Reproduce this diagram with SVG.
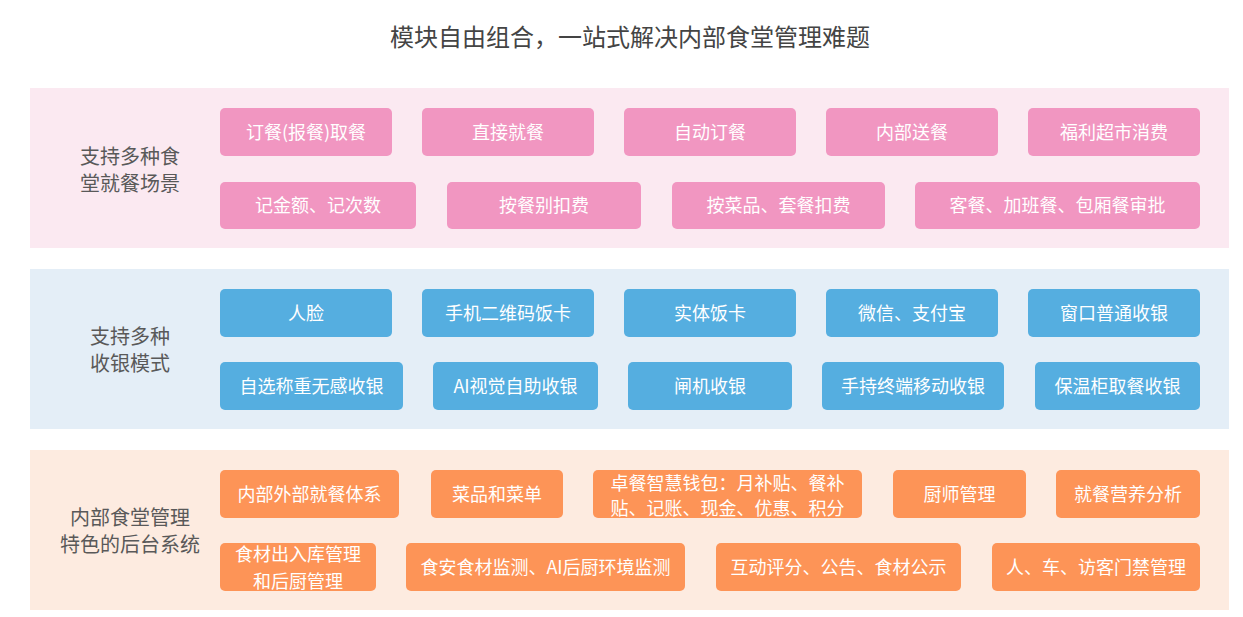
<svg xmlns="http://www.w3.org/2000/svg" width="1243" height="617" viewBox="0 0 1243 617">
<style>
text{font-family:"Microsoft YaHei","Noto Sans CJK SC","Noto Sans",sans-serif}
.title{font-size:24px;fill:#444;text-anchor:middle}
.lbl{font-size:20px;fill:#595959;text-anchor:middle}
.bt{font-size:18px;fill:#fff;text-anchor:middle}
.pk{fill:#f196c1}
.bl{fill:#55aee0}
.og{fill:#fd9457}
</style>
<rect width="1243" height="617" fill="#fff"/>
<text class="title" x="630" y="46">模块自由组合，一站式解决内部食堂管理难题</text>

<g id="band1">
<rect x="30" y="88" width="1199" height="160" fill="#fbe9f1"/>
<text class="lbl" x="130" y="164">支持多种食</text>
<text class="lbl" x="130" y="191">堂就餐场景</text>
</g>
<g id="n1"><rect class="pk" x="220" y="108" width="172" height="48" rx="5"/><text class="bt" x="306" y="138.5">订餐(报餐)取餐</text></g>
<g id="n2"><rect class="pk" x="422" y="108" width="172" height="48" rx="5"/><text class="bt" x="508" y="138.5">直接就餐</text></g>
<g id="n3"><rect class="pk" x="624" y="108" width="172" height="48" rx="5"/><text class="bt" x="710" y="138.5">自动订餐</text></g>
<g id="n4"><rect class="pk" x="826" y="108" width="172" height="48" rx="5"/><text class="bt" x="912" y="138.5">内部送餐</text></g>
<g id="n5"><rect class="pk" x="1028" y="108" width="172" height="48" rx="5"/><text class="bt" x="1114" y="138.5">福利超市消费</text></g>
<g id="n6"><rect class="pk" x="220" y="182" width="196" height="47" rx="5"/><text class="bt" x="318" y="212">记金额、记次数</text></g>
<g id="n7"><rect class="pk" x="447" y="182" width="194" height="47" rx="5"/><text class="bt" x="544" y="212">按餐别扣费</text></g>
<g id="n8"><rect class="pk" x="672" y="182" width="213" height="47" rx="5"/><text class="bt" x="778.5" y="212">按菜品、套餐扣费</text></g>
<g id="n9"><rect class="pk" x="915" y="182" width="285" height="47" rx="5"/><text class="bt" x="1057.5" y="212">客餐、加班餐、包厢餐审批</text></g>

<g id="band2">
<rect x="30" y="269" width="1199" height="160" fill="#e4eef7"/>
<text class="lbl" x="130" y="344">支持多种</text>
<text class="lbl" x="130" y="371">收银模式</text>
</g>
<g id="m1"><rect class="bl" x="220" y="289" width="172" height="48" rx="5"/><text class="bt" x="306" y="319.5">人脸</text></g>
<g id="m2"><rect class="bl" x="422" y="289" width="172" height="48" rx="5"/><text class="bt" x="508" y="319.5">手机二维码饭卡</text></g>
<g id="m3"><rect class="bl" x="624" y="289" width="172" height="48" rx="5"/><text class="bt" x="710" y="319.5">实体饭卡</text></g>
<g id="m4"><rect class="bl" x="826" y="289" width="172" height="48" rx="5"/><text class="bt" x="912" y="319.5">微信、支付宝</text></g>
<g id="m5"><rect class="bl" x="1028" y="289" width="172" height="48" rx="5"/><text class="bt" x="1114" y="319.5">窗口普通收银</text></g>
<g id="m6"><rect class="bl" x="220" y="362" width="183" height="48" rx="5"/><text class="bt" x="311.5" y="392.5">自选称重无感收银</text></g>
<g id="m7"><rect class="bl" x="433" y="362" width="165" height="48" rx="5"/><text class="bt" x="515.5" y="392.5">AI视觉自助收银</text></g>
<g id="m8"><rect class="bl" x="628" y="362" width="164" height="48" rx="5"/><text class="bt" x="710" y="392.5">闸机收银</text></g>
<g id="m9"><rect class="bl" x="822" y="362" width="182" height="48" rx="5"/><text class="bt" x="913" y="392.5">手持终端移动收银</text></g>
<g id="m10"><rect class="bl" x="1035" y="362" width="165" height="48" rx="5"/><text class="bt" x="1117.5" y="392.5">保温柜取餐收银</text></g>

<g id="band3">
<rect x="30" y="450" width="1199" height="160" fill="#fdebe0"/>
<text class="lbl" x="130" y="525">内部食堂管理</text>
<text class="lbl" x="130" y="552">特色的后台系统</text>
</g>
<g id="k1"><rect class="og" x="220" y="470" width="179" height="48" rx="5"/><text class="bt" x="309.5" y="500.5">内部外部就餐体系</text></g>
<g id="k2"><rect class="og" x="431" y="470" width="132" height="48" rx="5"/><text class="bt" x="497" y="500.5">菜品和菜单</text></g>
<g id="k3"><rect class="og" x="593" y="470" width="269" height="48" rx="5"/><text class="bt" x="727.5" y="489.5">卓餐智慧钱包：月补贴、餐补</text><text class="bt" x="727.5" y="514.5">贴、记账、现金、优惠、积分</text></g>
<g id="k4"><rect class="og" x="893" y="470" width="133" height="48" rx="5"/><text class="bt" x="959.5" y="500.5">厨师管理</text></g>
<g id="k5"><rect class="og" x="1056" y="470" width="144" height="48" rx="5"/><text class="bt" x="1128" y="500.5">就餐营养分析</text></g>
<g id="k6"><rect class="og" x="220" y="543" width="156" height="48" rx="5"/><text class="bt" x="298" y="560.5">食材出入库管理</text><text class="bt" x="298" y="587.5">和后厨管理</text></g>
<g id="k7"><rect class="og" x="406" y="543" width="279" height="48" rx="5"/><text class="bt" x="545.5" y="573.5">食安食材监测、AI后厨环境监测</text></g>
<g id="k8"><rect class="og" x="716" y="543" width="245" height="48" rx="5"/><text class="bt" x="838.5" y="573.5">互动评分、公告、食材公示</text></g>
<g id="k9"><rect class="og" x="992" y="543" width="208" height="48" rx="5"/><text class="bt" x="1096" y="573.5">人、车、访客门禁管理</text></g>

<g id="connectors"></g>
</svg>
